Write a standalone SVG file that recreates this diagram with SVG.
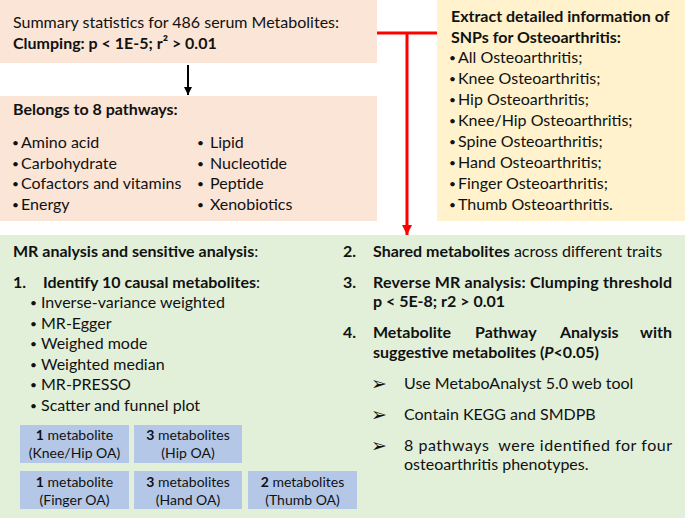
<svg xmlns="http://www.w3.org/2000/svg" width="685" height="522" viewBox="0 0 685 522">
<style>
text{font-family:Lato,"Liberation Sans",sans-serif;font-size:16px;fill:#111}
.b{font-weight:bold}
.c{text-anchor:middle;font-size:14px}
.bu{font-size:12px}
.ar{font-family:"DejaVu Sans",sans-serif;font-size:19px}
.peach{fill:#FBE5D6}
.yel{fill:#FFF2CC}
.grn{fill:#E2F0D9}
.blu{fill:#B4C7E7}
.red{stroke:#FF0000;stroke-width:3;fill:none}
</style>
<defs>
<marker id="ab" viewBox="0 0 10 10" refX="10" refY="5" markerWidth="8" markerHeight="8" markerUnits="userSpaceOnUse" orient="auto"><path d="M0,0L10,5L0,10z" fill="#000"/></marker>
<marker id="ar" viewBox="0 0 10 10" refX="10" refY="5" markerWidth="10" markerHeight="10" markerUnits="userSpaceOnUse" orient="auto"><path d="M0,0L10,5L0,10z" fill="#FF0000"/></marker>
</defs>
<rect width="685" height="522" fill="#fff"/>
<g id="summary">
<rect class="peach" x="0" y="0" width="377" height="63"/>
<text x="13" y="28">Summary statistics for 486 serum Metabolites:</text>
<text x="13" y="49" class="b">Clumping: p &lt; 1E-5; r² &gt; 0.01</text>
</g>
<g id="pathways">
<rect class="peach" x="0" y="96" width="377" height="125"/>
<text x="13" y="115" class="b">Belongs to 8 pathways:</text>
<text x="12" y="147" class="bu">•</text><text x="21" y="148">Amino acid</text>
<text x="12" y="167.5" class="bu">•</text><text x="21" y="168.5">Carbohydrate</text>
<text x="12" y="188" class="bu">•</text><text x="21" y="189">Cofactors and vitamins</text>
<text x="12" y="208.5" class="bu">•</text><text x="21" y="209.5">Energy</text>
<text x="197" y="147" class="bu">•</text><text x="210" y="148">Lipid</text>
<text x="197" y="167.5" class="bu">•</text><text x="210" y="168.5">Nucleotide</text>
<text x="197" y="188" class="bu">•</text><text x="210" y="189">Peptide</text>
<text x="197" y="208.5" class="bu">•</text><text x="210" y="209.5">Xenobiotics</text>
</g>
<g id="oa-snps">
<rect class="yel" x="437" y="0" width="248" height="221"/>
<text x="451" y="22" class="b">Extract detailed information of</text>
<text x="451" y="43" class="b">SNPs for Osteoarthritis:</text>
<text x="449" y="62" class="bu">•</text><text x="458" y="63">All Osteoarthritis;</text>
<text x="449" y="83" class="bu">•</text><text x="458" y="84">Knee Osteoarthritis;</text>
<text x="449" y="104" class="bu">•</text><text x="458" y="105">Hip Osteoarthritis;</text>
<text x="449" y="125" class="bu">•</text><text x="458" y="126">Knee/Hip Osteoarthritis;</text>
<text x="449" y="146" class="bu">•</text><text x="458" y="147">Spine Osteoarthritis;</text>
<text x="449" y="167" class="bu">•</text><text x="458" y="168">Hand Osteoarthritis;</text>
<text x="449" y="188" class="bu">•</text><text x="458" y="189">Finger Osteoarthritis;</text>
<text x="449" y="209" class="bu">•</text><text x="458" y="210">Thumb Osteoarthritis.</text>
</g>
<g id="mr-analysis">
<rect class="grn" x="0" y="235" width="685" height="283"/>
<text x="13" y="257"><tspan class="b">MR analysis and sensitive analysis</tspan>:</text>
<text x="13" y="288" class="b">1.</text>
<text x="43" y="288"><tspan class="b">Identify 10 causal metabolites</tspan>:</text>
<text x="30" y="307" class="bu">•</text><text x="41" y="308">Inverse-variance weighted</text>
<text x="30" y="327.5" class="bu">•</text><text x="41" y="328.5">MR-Egger</text>
<text x="30" y="348" class="bu">•</text><text x="41" y="349">Weighed mode</text>
<text x="30" y="368.5" class="bu">•</text><text x="41" y="369.5">Weighted median</text>
<text x="30" y="389" class="bu">•</text><text x="41" y="390">MR-PRESSO</text>
<text x="30" y="409.5" class="bu">•</text><text x="41" y="410.5">Scatter and funnel plot</text>
<text x="343" y="257" class="b">2.</text>
<text x="373" y="257"><tspan class="b">Shared metabolites</tspan> across different traits</text>
<text x="343" y="288" class="b">3.</text>
<text x="373" y="288" class="b" textLength="299" lengthAdjust="spacing">Reverse MR analysis: Clumping threshold</text>
<text x="373" y="307" class="b">p &lt; 5E-8; r2 &gt; 0.01</text>
<text x="343" y="338" class="b">4.</text>
<text x="373" y="338" class="b">Metabolite</text>
<text x="475" y="338" class="b">Pathway</text>
<text x="560" y="338" class="b">Analysis</text>
<text x="672" y="338" class="b" text-anchor="end">with</text>
<text x="373" y="358" class="b">suggestive metabolites (<tspan font-style="italic">P</tspan>&lt;0.05)</text>
<text x="371" y="390" class="ar">➢</text>
<text x="404" y="389">Use MetaboAnalyst 5.0 web tool</text>
<text x="371" y="421" class="ar">➢</text>
<text x="404" y="420">Contain KEGG and SMDPB</text>
<text x="371" y="452" class="ar">➢</text>
<text x="404" y="451" textLength="268" lengthAdjust="spacing" style="white-space:pre">8 pathways  were identified for four</text>
<text x="404" y="470">osteoarthritis phenotypes.</text>
</g>
<g id="box-kneehip">
<rect class="blu" x="20" y="425" width="109" height="38"/>
<text x="74.5" y="440" class="c"><tspan class="b">1</tspan> metabolite</text>
<text x="74.5" y="458" class="c">(Knee/Hip OA)</text>
</g>
<g id="box-hip">
<rect class="blu" x="134" y="425" width="108" height="38"/>
<text x="188" y="440" class="c"><tspan class="b">3</tspan> metabolites</text>
<text x="188" y="458" class="c">(Hip OA)</text>
</g>
<g id="box-finger">
<rect class="blu" x="20" y="471" width="109" height="38"/>
<text x="74.5" y="487" class="c"><tspan class="b">1</tspan> metabolite</text>
<text x="74.5" y="505" class="c">(Finger OA)</text>
</g>
<g id="box-hand">
<rect class="blu" x="134" y="471" width="108" height="38"/>
<text x="188" y="487" class="c"><tspan class="b">3</tspan> metabolites</text>
<text x="188" y="505" class="c">(Hand OA)</text>
</g>
<g id="box-thumb">
<rect class="blu" x="248" y="471" width="109" height="38"/>
<text x="302.5" y="487" class="c"><tspan class="b">2</tspan> metabolites</text>
<text x="302.5" y="505" class="c">(Thumb OA)</text>
</g>
<g id="connectors">
<line x1="188" y1="65" x2="188" y2="95" stroke="#000" stroke-width="2" marker-end="url(#ab)"/>
<line class="red" x1="377" y1="33" x2="437" y2="33"/>
<line class="red" x1="407" y1="33" x2="407" y2="235" marker-end="url(#ar)"/>
</g>
</svg>
